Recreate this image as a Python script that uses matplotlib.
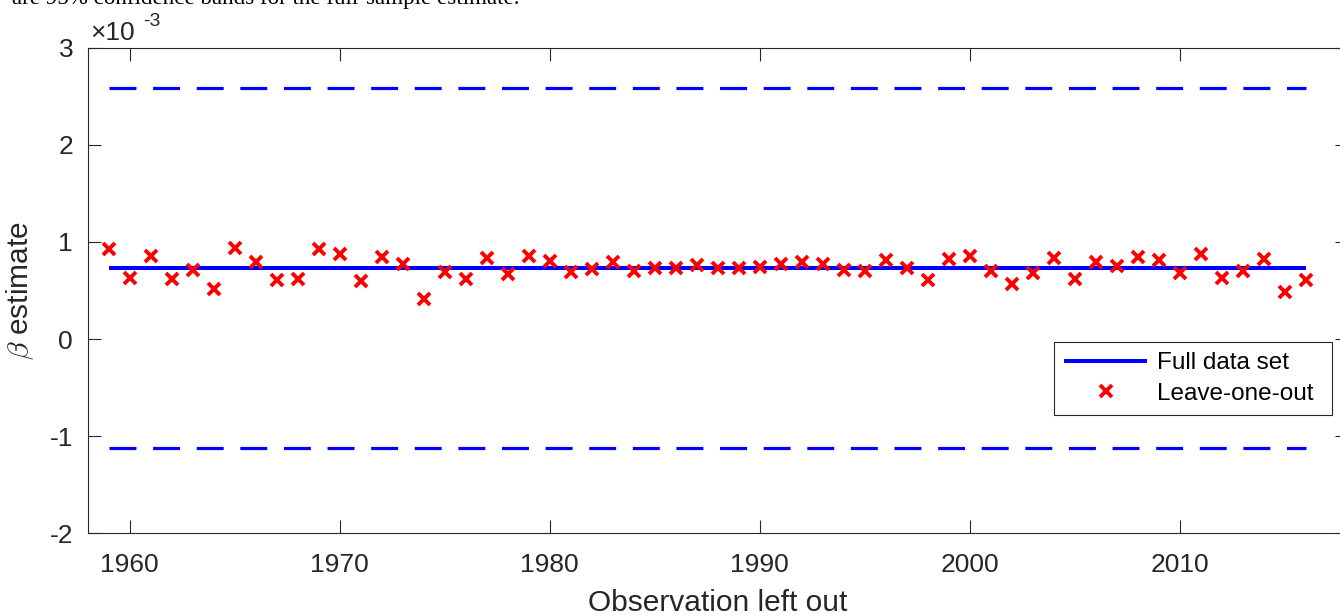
import matplotlib
matplotlib.use("Agg")
import matplotlib.pyplot as plt
import numpy as np

plt.rcParams['font.family'] = ['Liberation Sans', 'DejaVu Sans']
plt.rcParams['mathtext.fontset'] = 'cm'
plt.rcParams['lines.scale_dashes'] = False

# Observation left out (year) and estimates, in units of 1e-3
years = list(range(1959, 2017))
beta_loo = [0.925, 0.632, 0.856, 0.619, 0.711, 0.519, 0.938, 0.794, 0.605, 0.615,
            0.928, 0.876, 0.595, 0.845, 0.777, 0.416, 0.687, 0.622, 0.838, 0.670,
            0.856, 0.801, 0.691, 0.722, 0.790, 0.704, 0.729, 0.729, 0.760, 0.735,
            0.735, 0.742, 0.773, 0.790, 0.770, 0.708, 0.701, 0.814, 0.729, 0.612,
            0.821, 0.856, 0.704, 0.570, 0.680, 0.835, 0.619, 0.797, 0.749, 0.845,
            0.811, 0.684, 0.873, 0.625, 0.704, 0.825, 0.488, 0.605]
beta_full = 0.73
band_upper = 2.59
band_lower = -1.12

x_ticks = [1960, 1970, 1980, 1990, 2000, 2010]
y_ticks = [-2, -1, 0, 1, 2, 3]

W, H = 1340, 616
fig = plt.figure(figsize=(W / 100, H / 100), dpi=100)
ax_left, ax_right = 87.7, 1347.7
ax_top, ax_bottom = 47.7, 533.3
ax_w, ax_h = ax_right - ax_left, ax_bottom - ax_top
ax = fig.add_axes([ax_left / W, 1 - ax_bottom / H, ax_w / W, ax_h / H])

axis_col = '#262626'
n = len(years)
ax.plot(years, [beta_full] * n, color='#0000ff', lw=2.9, label='Full data set',
        solid_capstyle='butt', zorder=2)
ax.plot(years, beta_loo, linestyle='none', marker='x', color='#ff0000',
        markersize=9, markeredgewidth=2.8, label='Leave-one-out', zorder=3)
for yb in (band_upper, band_lower):
    ax.plot(years, [yb] * n, color='#0000ff', lw=2.3, dashes=(19.4, 12.0),
            dash_capstyle='butt', zorder=2)

ax.set_xlim(1958, 2018)
ax.set_ylim(-2, 3)
ax.set_xticks(x_ticks)
ax.set_yticks(y_ticks)
ax.set_xticklabels([str(v) for v in x_ticks])
ax.set_yticklabels([str(v) for v in y_ticks])

for sp in ax.spines.values():
    sp.set_color(axis_col)
    sp.set_linewidth(0.8)
ax.tick_params(direction='in', length=9.4, width=0.8, color=axis_col,
               labelcolor=axis_col, labelsize=19, top=True, right=True)
ax.tick_params(axis='x', pad=14)
ax.tick_params(axis='y', pad=10.5)

ax.set_xlabel('Observation left out', fontsize=21.5, color=axis_col, labelpad=9)
ax.set_ylabel(r'$\beta$ estimate', fontsize=21.5, color=axis_col, labelpad=10)

# exponent label for the y axis
fig.text(90 / W, 1 - 40 / H, '\u00d710', fontsize=19, color=axis_col,
         ha='left', va='baseline')
fig.text(143 / W, 1 - 26 / H, '-3', fontsize=14, color=axis_col,
         ha='left', va='baseline')

# legend box spans x 1054-1332, y 342-413 (pixels)
leg_x0, leg_x1, leg_y0, leg_y1 = 1054, 1332, 342, 413
leg = ax.legend(loc='upper left',
                bbox_to_anchor=((leg_x0 - ax_left) / ax_w,
                                (ax_bottom - leg_y1) / ax_h,
                                (leg_x1 - leg_x0) / ax_w,
                                (leg_y1 - leg_y0) / ax_h),
                mode='expand', borderaxespad=0, fontsize=17.5, fancybox=False,
                framealpha=1, edgecolor=axis_col, handlelength=3.4,
                handletextpad=0.4, borderpad=0.42, labelspacing=0.36)
leg.get_frame().set_linewidth(0.8)

fig.text(12 / W, 1 - 4 / H,
         'are 95% confidence bands for the full-sample estimate.',
         fontsize=16.6, family='Liberation Serif', color='black',
         ha='left', va='baseline')

fig.savefig('out.png', dpi=100)
